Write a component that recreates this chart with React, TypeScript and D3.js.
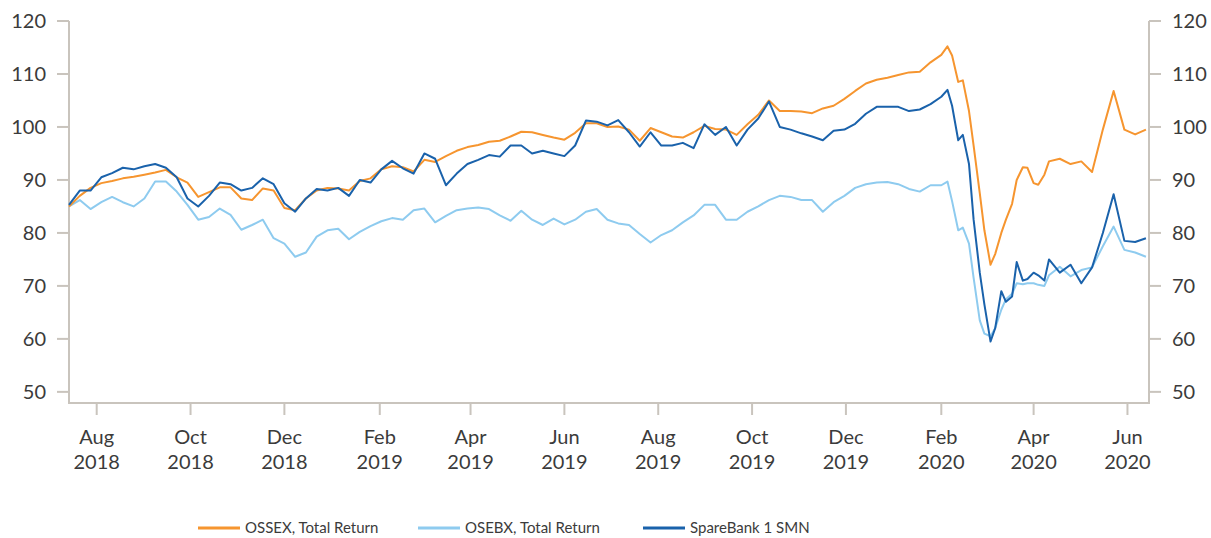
import { useEffect, useRef } from "react";
import * as d3 from "d3";

// dates: weekly to Feb 2020, twice a week through the crash, weekly again after
const weeklyA = d3.timeDay.range(new Date(2018, 6, 14), new Date(2020, 1, 2), 7);
const crashDates = [
  "2020-02-05", "2020-02-08", "2020-02-12", "2020-02-15", "2020-02-19",
  "2020-02-22", "2020-02-26", "2020-02-29", "2020-03-04", "2020-03-07",
  "2020-03-11", "2020-03-14", "2020-03-18", "2020-03-21", "2020-03-25",
  "2020-03-28", "2020-04-01", "2020-04-04", "2020-04-08", "2020-04-11",
];
const weeklyB = d3.timeDay.range(new Date(2020, 3, 18), new Date(2020, 5, 14), 7);
const parse = d3.timeParse("%Y-%m-%d");
const dates = [...weeklyA, ...crashDates.map((s) => parse(s)), ...weeklyB];

const ossex = [
  85.0, 87.0, 88.5, 89.4, 89.8, 90.3, 90.6, 91.0, 91.4, 91.9,
  90.5, 89.5, 86.8, 87.7, 88.6, 88.6, 86.5, 86.2, 88.4, 88.0,
  84.7, 84.3, 86.5, 88.0, 88.5, 88.4, 88.0, 89.8, 90.3, 92.0,
  92.6, 92.4, 91.6, 93.8, 93.4, 94.5, 95.5, 96.2, 96.6, 97.2,
  97.4, 98.2, 99.1, 99.0, 98.5, 98.0, 97.6, 98.9, 100.7, 100.7,
  100.0, 100.1, 99.5, 97.4, 99.8, 99.0, 98.2, 98.0, 99.0, 100.2,
  99.6, 99.5, 98.5, 100.5, 102.3, 105.0, 103.0, 103.0, 102.9, 102.6,
  103.5, 104.0, 105.3, 106.8, 108.2, 108.9, 109.3, 109.8, 110.3, 110.4,
  112.2, 113.6,
  115.2, 113.5, 108.5, 108.8, 103.0, 96.5, 87.5, 80.5, 74.0, 76.0,
  80.0, 82.5, 85.5, 90.0, 92.4, 92.3, 89.4, 89.1, 91.0, 93.5,
  94.0, 93.0, 93.5, 91.5, 99.5, 106.8, 99.5, 98.6, 99.5,
];

const osebx = [
  85.0, 86.2, 84.5, 85.8, 86.8, 85.8, 85.0, 86.5, 89.7, 89.7,
  87.8, 85.3, 82.5, 83.0, 84.6, 83.4, 80.6, 81.5, 82.5, 79.0,
  78.0, 75.5, 76.3, 79.3, 80.5, 80.8, 78.8, 80.2, 81.3, 82.2,
  82.8, 82.5, 84.3, 84.6, 82.0, 83.2, 84.3, 84.6, 84.8, 84.5,
  83.3, 82.3, 84.2, 82.5, 81.5, 82.7, 81.6, 82.5, 84.0, 84.5,
  82.5, 81.8, 81.5, 79.8, 78.2, 79.6, 80.5, 82.0, 83.3, 85.3,
  85.3, 82.5, 82.5, 84.0, 85.0, 86.2, 87.0, 86.8, 86.2, 86.2,
  84.0, 85.8, 87.0, 88.5, 89.2, 89.5, 89.6, 89.2, 88.3, 87.8,
  89.0, 89.0,
  89.7, 86.0, 80.5, 81.0, 78.0, 71.5, 63.5, 61.0, 60.5, 62.0,
  65.5, 67.5, 68.5, 70.5, 70.3, 70.5, 70.5, 70.2, 70.0, 72.0,
  73.6, 71.8, 73.0, 73.5, 77.5, 81.2, 76.8, 76.3, 75.5,
];

const smn = [
  85.3, 88.0, 88.0, 90.5, 91.3, 92.3, 92.0, 92.6, 93.0, 92.3,
  90.5, 86.5, 85.0, 87.0, 89.5, 89.2, 88.0, 88.5, 90.3, 89.2,
  85.6, 84.0, 86.5, 88.3, 88.0, 88.5, 87.0, 90.0, 89.5, 92.0,
  93.6, 92.2, 91.2, 95.0, 94.0, 89.0, 91.2, 93.0, 93.8, 94.7,
  94.4, 96.5, 96.5, 95.0, 95.5, 95.0, 94.5, 96.5, 101.2, 101.0,
  100.3, 101.3, 99.0, 96.3, 99.0, 96.5, 96.5, 97.0, 96.0, 100.5,
  98.5, 100.0, 96.5, 99.5, 101.6, 104.8, 100.0, 99.5, 98.8, 98.2,
  97.5, 99.3, 99.5, 100.6, 102.5, 103.8, 103.8, 103.8, 103.0, 103.3,
  104.3, 105.7,
  107.0, 104.0, 97.5, 98.5, 93.0, 82.5, 72.5, 66.5, 59.5, 62.0,
  69.0, 67.0, 68.0, 74.5, 71.0, 71.3, 72.5, 72.0, 71.0, 75.0,
  72.5, 74.0, 70.5, 73.5, 80.0, 87.3, 78.5, 78.3, 79.0,
];

const series = [
  { name: "OSEBX, Total Return", values: osebx, color: "#8ecbef" },
  { name: "OSSEX, Total Return", values: ossex, color: "#f6952f" },
  { name: "SpareBank 1 SMN", values: smn, color: "#1a62ab" },
];
const legendOrder = ["OSSEX, Total Return", "OSEBX, Total Return", "SpareBank 1 SMN"];
const yTicks = [50, 60, 70, 80, 90, 100, 110, 120];

export default function App() {
  const svgRef = useRef(null);
  const width = 1211;
  const height = 538;

  useEffect(() => {
    const svg = d3.select(svgRef.current);
    svg.selectAll("*").remove();

    const left = 69, right = 1149, top = 21, bottom = 403;
    const axisColor = "#c9c4bd";
    const textColor = "#3b3b3b";
    const font = "Lato, 'Open Sans', sans-serif";

    const x = d3
      .scaleTime()
      .domain([new Date(2018, 6, 14), new Date(2020, 5, 15)])
      .range([left, right]);
    const y = d3.scaleLinear().domain([47.9, 120]).range([bottom, top]);

    // axis lines
    svg.append("line").attr("x1", left).attr("x2", left).attr("y1", top).attr("y2", bottom)
      .attr("stroke", axisColor).attr("stroke-width", 2);
    svg.append("line").attr("x1", right).attr("x2", right).attr("y1", top).attr("y2", bottom)
      .attr("stroke", axisColor).attr("stroke-width", 2);
    svg.append("line").attr("x1", left - 1).attr("x2", right + 1).attr("y1", bottom).attr("y2", bottom)
      .attr("stroke", axisColor).attr("stroke-width", 2);

    // y ticks on both sides
    const yt = svg.selectAll(".ytick").data(yTicks).enter().append("g").attr("class", "ytick");
    yt.append("line").attr("x1", left - 12).attr("x2", left).attr("y1", (d) => y(d)).attr("y2", (d) => y(d))
      .attr("stroke", axisColor).attr("stroke-width", 2);
    yt.append("line").attr("x1", right).attr("x2", right + 12).attr("y1", (d) => y(d)).attr("y2", (d) => y(d))
      .attr("stroke", axisColor).attr("stroke-width", 2);
    yt.append("text").attr("x", left - 23).attr("y", (d) => y(d)).attr("dy", "0.35em")
      .attr("text-anchor", "end").attr("font-family", font).attr("font-size", 20)
      .attr("fill", textColor).text((d) => d);
    yt.append("text").attr("x", right + 23).attr("y", (d) => y(d)).attr("dy", "0.35em")
      .attr("text-anchor", "start").attr("font-family", font).attr("font-size", 20)
      .attr("fill", textColor).text((d) => d);

    // x ticks every second month from Aug 2018
    const xTicks = d3.timeMonth.range(new Date(2018, 7, 1), new Date(2020, 6, 1), 2);
    const fmtM = d3.timeFormat("%b");
    const fmtY = d3.timeFormat("%Y");
    const xt = svg.selectAll(".xtick").data(xTicks).enter().append("g").attr("class", "xtick");
    xt.append("line").attr("x1", (d) => x(d)).attr("x2", (d) => x(d)).attr("y1", bottom).attr("y2", bottom + 12)
      .attr("stroke", axisColor).attr("stroke-width", 2);
    xt.append("text").attr("x", (d) => x(d)).attr("y", 437).attr("dy", "0.35em")
      .attr("text-anchor", "middle").attr("font-family", font).attr("font-size", 20)
      .attr("fill", textColor).text((d) => fmtM(d));
    xt.append("text").attr("x", (d) => x(d)).attr("y", 462).attr("dy", "0.35em")
      .attr("text-anchor", "middle").attr("font-family", font).attr("font-size", 20)
      .attr("fill", textColor).text((d) => fmtY(d));

    // lines
    const line = d3
      .line()
      .x((d, i) => x(dates[i]))
      .y((d) => y(d));
    series.forEach((s) => {
      svg.append("path").datum(s.values).attr("d", line).attr("fill", "none")
        .attr("stroke", s.color).attr("stroke-width", 2).attr("stroke-linejoin", "round");
    });

    // legend
    const legendX = [198, 418, 643];
    legendOrder.forEach((name, i) => {
      const s = series.find((d) => d.name === name);
      const g = svg.append("g").attr("transform", `translate(${legendX[i]}, 528)`);
      g.append("line").attr("x1", 0).attr("x2", 42).attr("y1", 0).attr("y2", 0)
        .attr("stroke", s.color).attr("stroke-width", 3);
      g.append("text").attr("x", 47).attr("y", 0).attr("dy", "0.35em")
        .attr("font-family", font).attr("font-size", 15).attr("fill", textColor).text(name);
    });
  }, []);

  return (
    <svg
      ref={svgRef}
      width={width}
      height={height}
      style={{ position: "absolute", left: 0, top: 0, background: "#fff" }}
    ></svg>
  );
}
